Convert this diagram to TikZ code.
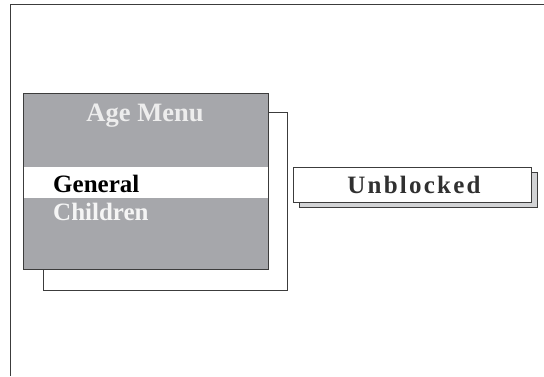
\documentclass[tikz,border=0pt]{standalone}
\usepackage{fontspec}
\setmainfont{Liberation Serif}
\usepackage{xcolor}
\definecolor{menugray}{HTML}{A6A7AB}
\definecolor{framegray}{HTML}{3C3C3C}
\definecolor{shadowgray}{HTML}{D2D3D5}
\usetikzlibrary{positioning}
\tikzset{
  panel/.style={draw=framegray,line width=0.9pt,inner sep=0pt},
  menutext/.style={font=\fontsize{25}{29}\selectfont\bfseries,inner sep=0pt},
}

\begin{document}
\begin{tikzpicture}[x=1pt,y=-1pt]
\useasboundingbox (0,0) rectangle (544,376);
% outer page edge
\draw[framegray,line width=1.4pt] (10.5,376) -- (10.5,4.5) -- (544,4.5);
% age menu with its backing frame
\node[panel,fill=white,minimum width=244pt,minimum height=178pt] (menuframe) at (165,201) {};
\node[panel,fill=menugray,minimum width=245pt,minimum height=176pt] (menu) at (145.5,181) {};
\node[fill=white,inner sep=0pt,minimum width=244pt,minimum height=31pt] (band) at (145.5,182.5) {};
\node[menutext,text=white!93!black,anchor=base,font=\fontsize{26.5}{30}\selectfont\bfseries] (title) at (145,121) {Age Menu};
\node[menutext,text=black,anchor=base west] (general) at (53,192) {General};
\node[menutext,text=white!96!black,anchor=base west] (children) at (53,220) {Children};
% status box
\node[panel,fill=shadowgray,minimum width=238pt,minimum height=35pt] (statusshadow) at (418,189.5) {};
\node[panel,fill=white,minimum width=238pt,minimum height=35pt] (status) at (412,184.5) {};
\node[menutext,text=framegray!80!black,anchor=base,font=\fontsize{25}{29}\selectfont\bfseries\addfontfeature{LetterSpace=9}] (statustext) at (414,193) {Unblocked};
\end{tikzpicture}
\end{document}
